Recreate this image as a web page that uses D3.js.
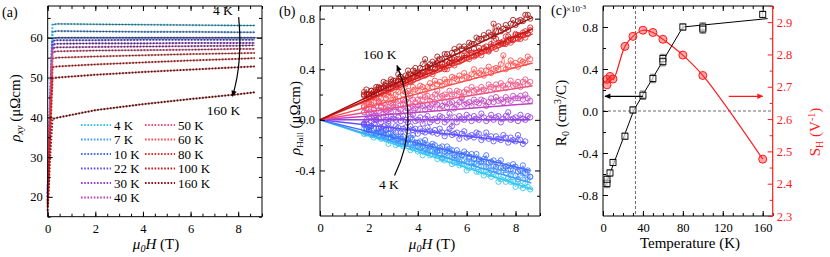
<!DOCTYPE html>
<html>
<head>
<meta charset="utf-8">
<script src="https://cdn.jsdelivr.net/npm/d3@7"></script>
<style>
  body { margin: 0; background: #fff; }
  svg { display: block; }
</style>
</head>
<body>
<svg id="fig" width="830" height="257"></svg>
<script>
// ---------- data ----------
const temps = ["4 K", "7 K", "10 K", "22 K", "30 K", "40 K", "50 K", "60 K", "80 K", "100 K", "160 K"];
const colors = ["#33c8f0", "#3f9cff", "#3f6cff", "#6050ff", "#9040e0", "#c040c0", "#f05080", "#ff4848", "#f03030", "#c81818", "#a01010"];

// panel (a): rho_xy (µΩcm) vs field (T)
const fieldA = [0, 0.1, 0.2, 0.4, 2, 4, 6, 8, 8.7];
const rho4   = [22, 45, 63.3, 63.5, 63.4, 63.3, 63.2, 63.1, 63.1];
const rho7   = [21, 44, 61.5, 61.7, 61.6, 61.5, 61.5, 61.4, 61.4];
const rho10  = [21, 43, 59.8, 60.0, 60.0, 60.0, 60.0, 60.0, 60.0];
const rho22  = [20, 42, 59.2, 59.4, 59.4, 59.5, 59.5, 59.5, 59.5];
const rho30  = [20, 41, 58.3, 58.5, 58.6, 58.6, 58.7, 58.7, 58.7];
const rho40  = [19, 40, 57.4, 57.6, 57.7, 57.8, 57.9, 58.0, 58.1];
const rho50  = [19, 40, 56.4, 56.6, 56.8, 56.9, 57.0, 57.2, 57.2];
const rho60  = [18.5, 39, 54.8, 55.0, 55.3, 55.6, 55.9, 56.1, 56.2];
const rho80  = [18, 37, 52.6, 52.8, 53.3, 53.8, 54.3, 54.7, 54.9];
const rho100 = [17.5, 35, 49.8, 50.0, 50.7, 51.4, 52.0, 52.6, 52.8];
const rho160 = [16.5, 30, 39.6, 39.9, 41.8, 43.3, 44.6, 45.8, 46.3];
const rhoSeries = [rho4, rho7, rho10, rho22, rho30, rho40, rho50, rho60, rho80, rho100, rho160];
const refLevelA = 60;

// panel (b): Hall resistivity, values in 0.01 µΩcm, vs field (T)
const fieldB = [1.8, 1.9, 2.0, 2.1, 2.2, 2.3, 2.4, 2.5, 2.6, 2.7, 2.8, 2.9, 3.0, 3.1, 3.2, 3.3, 3.4, 3.5,
  3.6, 3.7, 3.8, 3.9, 4.0, 4.1, 4.2, 4.3, 4.4, 4.5, 4.6, 4.7, 4.8, 4.9, 5.0, 5.1, 5.2, 5.3, 5.4, 5.5,
  5.6, 5.7, 5.8, 5.9, 6.0, 6.1, 6.2, 6.3, 6.4, 6.5, 6.6, 6.7, 6.8, 6.9, 7.0, 7.1, 7.2, 7.3, 7.4, 7.5,
  7.6, 7.7, 7.8, 7.9, 8.0, 8.1, 8.2, 8.3, 8.4, 8.5, 8.6];
const hall4 = [-7,-11,-7,-11,-14,-11,-9,-15,-14,-13,-19,-15,-14,-20,-18,-18,-21,-17,-19,-24,-22,-19,-25,-23,
  -28,-24,-26,-28,-25,-27,-31,-28,-31,-32,-28,-32,-35,-34,-32,-36,-35,-35,-40,-38,-37,-34,-41,-41,-40,-44,
  -40,-43,-45,-43,-44,-49,-47,-45,-49,-46,-49,-49,-53,-49,-52,-54,-50,-53,-55];
const hall7 = [-11,-8,-6,-12,-10,-10,-13,-9,-11,-15,-14,-10,-16,-15,-19,-15,-17,-19,-15,-18,-22,-18,-21,-22,
  -18,-22,-25,-24,-21,-26,-24,-24,-30,-27,-26,-23,-30,-30,-29,-33,-28,-32,-33,-31,-33,-37,-35,-33,-37,-33,
  -37,-37,-40,-37,-39,-41,-38,-40,-42,-40,-44,-40,-44,-47,-44,-42,-47,-47,-45];
const hall10 = [-4,-7,-8,-5,-7,-11,-7,-10,-12,-7,-11,-14,-13,-10,-15,-13,-13,-18,-16,-14,-12,-18,-18,-17,
  -21,-16,-20,-21,-19,-20,-25,-22,-21,-25,-21,-25,-24,-28,-24,-27,-28,-25,-27,-29,-27,-31,-27,-31,-33,-31,
  -28,-34,-33,-32,-37,-34,-32,-38,-37,-36,-39,-35,-37,-41,-40,-36,-42,-40,-45];
const hall22 = [-3,-3,-8,-5,-3,0,-7,-6,-5,-8,-3,-7,-8,-5,-6,-10,-7,-6,-9,-5,-8,-7,-11,-7,-9,-10,-6,-9,
  -10,-8,-11,-7,-10,-13,-10,-7,-12,-11,-10,-15,-11,-9,-14,-13,-12,-14,-10,-11,-16,-14,-10,-15,-13,-17,
  -13,-15,-16,-12,-14,-18,-14,-16,-17,-12,-16,-19,-17];
const hall30 = [-3,0,2,-1,3,0,1,-2,2,0,-1,3,1,0,2,-1,3,0,-2,1,4,-1,0,2,-3,1,3,-2,0,1,-1,3,2,-2,0,5,-5,2,
  -2,3,1,0,4,2,-1,3,1,0,5,2,-1,1,4,0,2,3,-2,1,3,6,0,1,2,-1,4,1,0,3,2];
const hall40 = [6,9,5,6,8,3,7,10,5,7,8,6,10,10,6,8,12,7,9,6,11,9,8,12,11,8,12,10,9,14,12,9,11,14,10,13,
  14,9,12,14,17,12,13,14,11,16,14,13,16,15,11,14,17,14,18,15,16,14,18,16,15,19,17,17,19,16,20,17,15];
const hall50 = [10,9,13,12,9,11,15,11,13,9,14,13,12,16,15,12,16,15,14,19,16,14,16,19,16,18,19,15,18,20,
  23,18,19,20,18,23,20,20,23,22,18,22,24,21,26,23,24,22,26,24,23,28,26,25,28,25,29,27,25,28,31,27,28,
  30,26,30,32,28,30];
const hall60 = [11,16,14,14,19,17,14,17,20,17,19,21,16,20,22,26,20,22,23,21,26,24,23,27,26,23,26,29,26,
  31,28,30,27,32,30,30,34,33,32,35,32,37,34,33,36,40,35,37,39,35,39,42,37,40,41,40,44,51,40,43,47,43,
  45,42,47,46,45,50,48];
const hall80 = [22,17,18,20,18,24,21,21,25,25,22,25,28,26,31,28,30,28,33,31,31,36,35,35,37,35,40,38,36,
  40,44,40,42,44,40,45,48,43,46,48,47,51,51,48,51,56,51,54,51,57,55,55,60,59,56,61,60,60,66,63,61,64,
  68,64,67,69,65,68,71];
const hall100 = [19,20,18,23,22,21,26,25,25,27,25,30,28,26,30,34,30,31,34,30,35,37,33,36,38,36,41,41,38,
  40,45,41,44,40,46,45,45,49,48,46,51,49,49,55,53,50,53,57,54,56,58,54,58,76,64,59,61,62,60,66,64,63,
  67,67,64,67,70,68,73];
const hall160 = [20,24,20,23,20,26,25,25,30,29,27,32,31,31,36,34,32,35,39,36,39,41,37,41,44,48,42,44,46,
  44,50,48,48,52,52,49,53,56,54,58,56,58,56,61,60,60,65,64,64,67,65,69,67,66,70,74,70,72,75,71,76,79,
  75,78,79,78,83,83,80];
const hallSeries = [hall4, hall7, hall10, hall22, hall30, hall40, hall50, hall60, hall80, hall100, hall160];
// linear fits through origin: end field (T) and end value (µΩcm)
const fitEndH = [8.7, 8.65, 8.6, 8.4, 8.6, 8.7, 8.7, 8.7, 8.7, 8.7, 8.7];
const fitEndV = [-0.55, -0.50, -0.40, -0.18, 0.00, 0.13, 0.27, 0.45, 0.68, 0.72, 0.81];

// panel (c): R0 (1e-3 cm^3/C) and S_H (1/V) vs temperature (K)
const tempR = [4, 4, 7, 10, 22, 30, 40, 50, 60, 60, 80, 100, 100, 160];
const r0    = [-0.69, -0.65, -0.59, -0.49, -0.24, 0.01, 0.15, 0.31, 0.50, 0.47, 0.80, 0.80, 0.78, 0.92];
const r0Err = [0.04, 0.03, 0.03, 0.03, 0.03, 0.03, 0.04, 0.04, 0.04, 0.04, 0.03, 0.04, 0.04, 0.03];
const r0LineT = [2, 31, 80, 165];
const r0LineV = [-0.72, 0.01, 0.80, 0.88];
const tempS = [4, 4, 7, 10, 22, 30, 40, 50, 60, 80, 100, 160];
const sH    = [2.706, 2.723, 2.732, 2.724, 2.825, 2.856, 2.875, 2.868, 2.847, 2.798, 2.735, 2.476];
const sLineT = [3, 7, 10, 22, 30, 40, 50, 60, 80, 100, 160];
const sLineV = [2.715, 2.732, 2.722, 2.825, 2.856, 2.875, 2.868, 2.847, 2.798, 2.735, 2.476];
const tCross = 32.5;

// ---------- helpers ----------
const serif = '"Liberation Serif", "Times New Roman", serif';
const RED = "#ff1a1a";
const svg = d3.select("#fig").style("font-family", serif);

const defs = svg.append("defs");
function marker(id, col) {
  defs.append("marker").attr("id", id).attr("viewBox", "0 0 10 10")
    .attr("refX", 9).attr("refY", 5).attr("markerWidth", 7).attr("markerHeight", 6)
    .attr("orient", "auto").attr("markerUnits", "userSpaceOnUse")
    .append("path").attr("d", "M0,0.5L10,5L0,9.5Z").attr("fill", col);
}
marker("headK", "#000");
marker("headR", RED);

// one set of inward ticks, labels optional
function ticks(g, gen, vals, size, fmt, pad, tr, col) {
  const a = g.append("g").attr("transform", tr)
    .call(gen.tickValues(vals).tickSize(size).tickSizeOuter(0).tickPadding(pad)
      .tickFormat(fmt || (() => "")));
  a.select(".domain").remove();
  a.attr("font-family", null).attr("font-size", null);
  a.selectAll("line").attr("stroke", col || "#000").attr("stroke-width", 1);
  a.selectAll("text").attr("fill", col || "#000").style("font-size", "12.5px").style("font-family", serif);
  return a;
}

function axesBox(g, x, y, o) {
  const [xl, xr] = x.range(), [yb, yt] = y.range();
  ticks(g, d3.axisBottom(x), o.xMinor, -3, null, 0, `translate(0,${yb})`);
  ticks(g, d3.axisBottom(x), o.xMajor, -5, o.xFmt, 7, `translate(0,${yb})`);
  ticks(g, d3.axisTop(x), o.xMinor, -3, null, 0, `translate(0,${yt})`);
  ticks(g, d3.axisTop(x), o.xMajor, -5, null, 0, `translate(0,${yt})`);
  ticks(g, d3.axisLeft(y), o.yMinor, -3, null, 0, `translate(${xl},0)`);
  ticks(g, d3.axisLeft(y), o.yMajor, -5, o.yFmt, 5, `translate(${xl},0)`);
  if (!o.noRight) {
    ticks(g, d3.axisRight(y), o.yMinor, -3, null, 0, `translate(${xr},0)`);
    ticks(g, d3.axisRight(y), o.yMajor, -5, null, 0, `translate(${xr},0)`);
  }
  g.append("path")
    .attr("d", o.noRight ? `M${xr},${yt}H${xl}V${yb}H${xr}` : `M${xl},${yt}H${xr}V${yb}H${xl}Z`)
    .attr("fill", "none").attr("stroke", "#000").attr("stroke-width", 1);
}

function text(g, x, y, str, size, anchor) {
  return g.append("text").attr("x", x).attr("y", y).attr("font-size", size)
    .style("font-family", serif).attr("text-anchor", anchor || "start").text(str);
}

// μ0H (T) axis title
function fieldTitle(g, cx, y) {
  const t = g.append("text").attr("x", cx).attr("y", y).attr("font-size", 15)
    .style("font-family", serif).attr("text-anchor", "middle");
  t.append("tspan").attr("font-style", "italic").text("μ");
  t.append("tspan").attr("font-style", "italic").attr("font-size", 10).attr("dy", 3).text("0");
  t.append("tspan").attr("font-style", "italic").attr("dy", -3).text("H");
  t.append("tspan").text(" (T)");
}

function vTitle(g, x, y, col) {
  return g.append("text").attr("transform", `translate(${x},${y}) rotate(-90)`)
    .attr("font-size", 15).style("font-family", serif).attr("text-anchor", "middle")
    .attr("fill", col || "#000");
}

const fmt1 = d => d.toFixed(1);

// ---------- panel (a) ----------
const gA = svg.append("g");
const xA = d3.scaleLinear().domain([0, 9]).range([47.7, 262]);
const yA = d3.scaleLinear().domain([15, 68]).range([216.7, 6]);

gA.append("line").attr("x1", xA(0)).attr("x2", xA(9)).attr("y1", yA(refLevelA)).attr("y2", yA(refLevelA))
  .attr("stroke", "#555").attr("stroke-width", 1.1);

const lineA = d3.line().x(d => xA(d[0])).y(d => yA(d[1]));
rhoSeries.forEach((s, i) => {
  const pts = fieldA.map((h, k) => [h, s[k]]);
  gA.append("path").attr("d", lineA(pts)).attr("fill", "none")
    .attr("stroke", colors[i]).attr("stroke-width", 2.1).attr("stroke-dasharray", "1.6 1.6");
});
rhoSeries.forEach((s, i) => {
  const pts = fieldA.map((h, k) => [h, s[k]]).slice(2);
  gA.append("path").attr("d", lineA(pts)).attr("fill", "none")
    .attr("stroke", "#000").attr("stroke-width", 0.6).attr("opacity", 0.85);
});

axesBox(gA, xA, yA, {
  xMajor: [0, 2, 4, 6, 8], xMinor: d3.range(0, 9.01, 0.5), xFmt: d3.format("d"),
  yMajor: [20, 30, 40, 50, 60], yMinor: [15, 25, 35, 45, 55, 65], yFmt: d3.format("d")
});

// legend
temps.forEach((t, i) => {
  const col = i < 6 ? 0 : 1, row = i < 6 ? i : i - 6;
  const x0 = col === 0 ? 81 : 145, y0 = 125 + row * 14.5;
  gA.append("line").attr("x1", x0).attr("x2", x0 + 30).attr("y1", y0).attr("y2", y0)
    .attr("stroke", colors[i]).attr("stroke-width", 2.1).attr("stroke-dasharray", "1.6 1.6");
  text(gA, x0 + 33, y0 + 4.5, t, 13);
});

text(gA, xA(6.94), yA(65.7), "4 K", 13.5);
text(gA, xA(6.68), yA(40.6), "160 K", 13.5);
gA.append("path")
  .attr("d", `M${xA(8.02)},${yA(65.2)} Q${xA(8.2)},${yA(53.9)} ${xA(7.76)},${yA(45.3)}`)
  .attr("fill", "none").attr("stroke", "#000").attr("stroke-width", 1.2).attr("marker-end", "url(#headK)");

fieldTitle(gA, 156, 249);
{
  const t = vTitle(gA, 20, 108);
  t.append("tspan").attr("font-style", "italic").text("ρ");
  t.append("tspan").attr("font-style", "italic").attr("font-size", 10).attr("dy", 3).text("xy");
  t.append("tspan").attr("dy", -3).text(" (μΩcm)");
}
text(gA, 2, 17, "(a)", 14);

// ---------- panel (b) ----------
const gB = svg.append("g");
const xB = d3.scaleLinear().domain([0, 9]).range([320, 540]);
const yB = d3.scaleLinear().domain([-0.76, 0.9]).range([216, 6]);
const lineB = d3.line().x(d => xB(d[0])).y(d => yB(d[1]));

hallSeries.forEach((s, i) => {
  const pts = s.map((v, k) => [fieldB[k], v / 100]);
  gB.append("path").attr("d", lineB(pts)).attr("fill", "none")
    .attr("stroke", colors[i]).attr("stroke-width", 0.7);
  gB.selectAll(null).data(pts).join("circle")
    .attr("cx", d => xB(d[0])).attr("cy", d => yB(d[1])).attr("r", 2.6)
    .attr("fill", "none").attr("stroke", colors[i]).attr("stroke-width", 0.85);
});
hallSeries.forEach((s, i) => {
  gB.append("path").attr("d", lineB([[0, 0], [fitEndH[i], fitEndV[i]]]))
    .attr("fill", "none").attr("stroke", colors[i]).attr("stroke-width", 1.5);
});

axesBox(gB, xB, yB, {
  xMajor: [0, 2, 4, 6, 8], xMinor: d3.range(0, 9.01, 0.5), xFmt: d3.format("d"),
  yMajor: [-0.4, 0, 0.4, 0.8], yMinor: [-0.6, -0.2, 0.2, 0.6], yFmt: fmt1
});

text(gB, xB(1.76), yB(0.481), "160 K", 13.5);
text(gB, xB(2.41), yB(-0.547), "4 K", 13.5);
gB.append("path")
  .attr("d", `M${xB(3.05)},${yB(-0.44)} Q${xB(4.1)},${yB(-0.02)} ${xB(3.15)},${yB(0.43)}`)
  .attr("fill", "none").attr("stroke", "#000").attr("stroke-width", 1.2).attr("marker-end", "url(#headK)");

fieldTitle(gB, 432, 249);
{
  const t = vTitle(gB, 300, 118);
  t.append("tspan").attr("font-style", "italic").text("ρ");
  t.append("tspan").attr("font-size", 9).attr("dy", 3).text("Hall");
  t.append("tspan").attr("dy", -3).text(" (μΩcm)");
}
text(gB, 279, 16, "(b)", 14);

// ---------- panel (c) ----------
const gC = svg.append("g");
const xC = d3.scaleLinear().domain([0, 170]).range([603, 772.7]);
const yC = d3.scaleLinear().domain([-1, 1]).range([216, 6]);
const yS = d3.scaleLinear().domain([2.3, 2.95]).range([216, 6]);

// reference dashed lines
gC.append("line").attr("x1", xC(tCross)).attr("x2", xC(tCross)).attr("y1", yC(1)).attr("y2", yC(-1))
  .attr("stroke", "#444").attr("stroke-width", 0.8).attr("stroke-dasharray", "3 2");
gC.append("line").attr("x1", xC(0)).attr("x2", xC(170)).attr("y1", yC(0)).attr("y2", yC(0))
  .attr("stroke", "#444").attr("stroke-width", 0.8).attr("stroke-dasharray", "3 2");

// S_H (right axis, red)
const sLine = d3.line().x((d, k) => xC(sLineT[k])).y(d => yS(d)).curve(d3.curveCatmullRom.alpha(0.5));
gC.append("path").attr("d", sLine(sLineV)).attr("fill", "none").attr("stroke", RED).attr("stroke-width", 1.2);
gC.selectAll(null).data(sH).join("circle")
  .attr("cx", (d, k) => xC(tempS[k])).attr("cy", d => yS(d)).attr("r", 4)
  .attr("fill", "rgba(255,60,60,0.45)").attr("stroke", RED).attr("stroke-width", 1);

// R0 (left axis, black)
const rLine = d3.line().x((d, k) => xC(r0LineT[k])).y(d => yC(d));
gC.append("path").attr("d", rLine(r0LineV)).attr("fill", "none").attr("stroke", "#000").attr("stroke-width", 1);
const eb = gC.append("g").attr("stroke", "#555").attr("stroke-width", 0.8);
r0.forEach((v, k) => {
  const cx = xC(tempR[k]);
  eb.append("line").attr("x1", cx).attr("x2", cx).attr("y1", yC(v - r0Err[k])).attr("y2", yC(v + r0Err[k]));
  eb.append("line").attr("x1", cx - 3).attr("x2", cx + 3).attr("y1", yC(v - r0Err[k])).attr("y2", yC(v - r0Err[k]));
  eb.append("line").attr("x1", cx - 3).attr("x2", cx + 3).attr("y1", yC(v + r0Err[k])).attr("y2", yC(v + r0Err[k]));
});
gC.selectAll(null).data(r0).join("rect")
  .attr("x", (d, k) => xC(tempR[k]) - 3).attr("y", d => yC(d) - 3).attr("width", 6).attr("height", 6)
  .attr("fill", "#fff").attr("fill-opacity", 0.6).attr("stroke", "#000").attr("stroke-width", 0.9);

// arrows
gC.append("line").attr("x1", xC(40)).attr("x2", xC(2)).attr("y1", yC(0.14)).attr("y2", yC(0.14))
  .attr("stroke", "#000").attr("stroke-width", 1.2).attr("marker-end", "url(#headK)");
gC.append("line").attr("x1", xC(126)).attr("x2", xC(160)).attr("y1", yC(0.14)).attr("y2", yC(0.14))
  .attr("stroke", RED).attr("stroke-width", 1.2).attr("marker-end", "url(#headR)");

axesBox(gC, xC, yC, {
  xMajor: [0, 40, 80, 120, 160], xMinor: d3.range(0, 170.1, 10), xFmt: d3.format("d"),
  yMajor: [-0.8, -0.4, 0, 0.4, 0.8], yMinor: [-0.6, -0.2, 0.2, 0.6], yFmt: fmt1, noRight: true
});
ticks(gC, d3.axisRight(yS), d3.range(2.35, 2.95, 0.1), -3, null, 0, `translate(${xC(170)},0)`, RED);
ticks(gC, d3.axisRight(yS), [2.3, 2.4, 2.5, 2.6, 2.7, 2.8, 2.9], -5, fmt1, 4, `translate(${xC(170)},0)`, RED);
gC.append("line").attr("x1", xC(170)).attr("x2", xC(170)).attr("y1", 6).attr("y2", 216)
  .attr("stroke", RED).attr("stroke-width", 1.2);

text(gC, 690, 248, "Temperature (K)", 15, "middle");
{
  const t = vTitle(gC, 566, 113);
  t.append("tspan").text("R");
  t.append("tspan").attr("font-size", 10).attr("dy", 3).text("0");
  t.append("tspan").attr("dy", -3).text(" (cm");
  t.append("tspan").attr("font-size", 10).attr("dy", -5).text("3");
  t.append("tspan").attr("dy", 5).text("/C)");
}
{
  const t = vTitle(gC, 820, 132, RED);
  t.append("tspan").text("S");
  t.append("tspan").attr("font-size", 10).attr("dy", 3).text("H");
  t.append("tspan").attr("dy", -3).text(" (V");
  t.append("tspan").attr("font-size", 10).attr("dy", -5).text("-1");
  t.append("tspan").attr("dy", 5).text(")");
}
text(gC, 551, 15, "(c)", 14);
{
  const t = text(gC, 566, 12, "", 9);
  t.append("tspan").text("×10");
  t.append("tspan").attr("font-size", 7).attr("dy", -3).text("-3");
}
</script>
</body>
</html>
